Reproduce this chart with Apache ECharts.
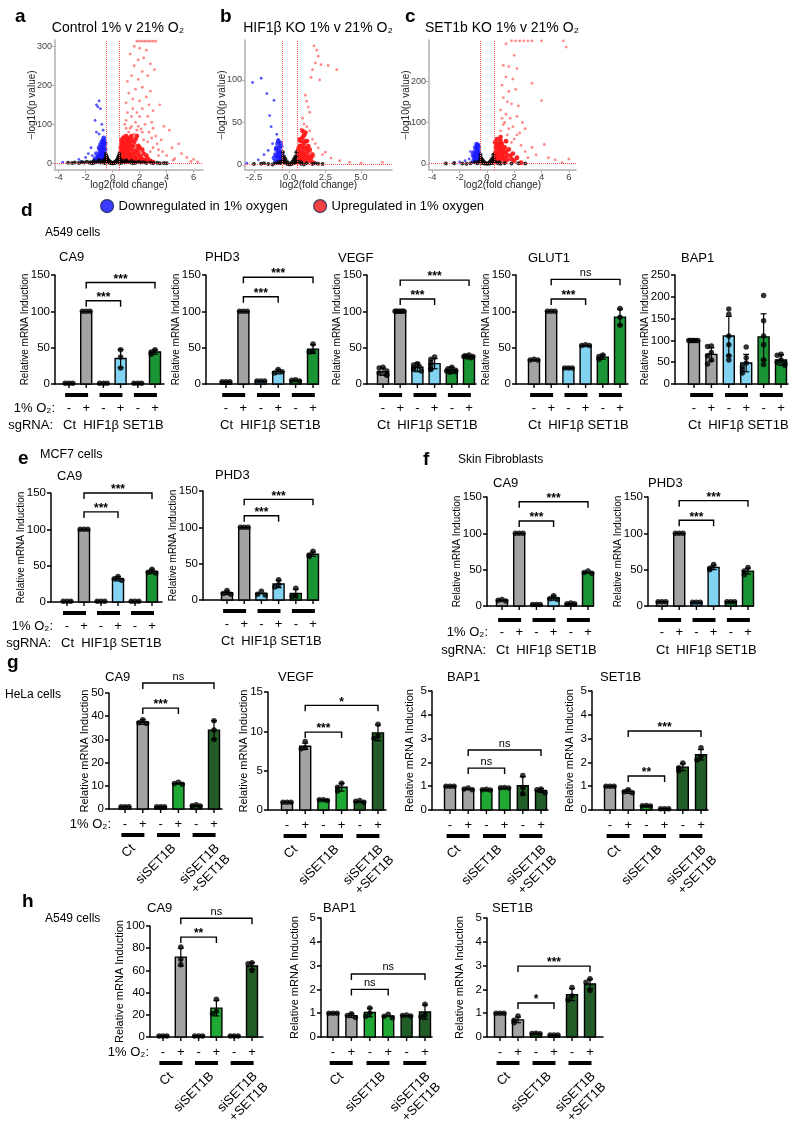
<!DOCTYPE html>
<html><head><meta charset="utf-8">
<script src="https://cdn.jsdelivr.net/npm/echarts@6/dist/echarts.min.js"></script>
<style>html,body{margin:0;padding:0;background:#fff}#c{width:800px;height:1122px}</style>
</head><body><div id="c"></div>
<script>
const FONT = "'Liberation Sans', Arial, Helvetica, sans-serif";

// ---------------- Volcano data ----------------
const volcA_redCore = [[0.6,10],[0.7,20],[0.8,30],[0.9,40],[1.0,50],[1.1,60],[1.2,65],[0.7,45],[0.8,55],[0.6,30],[1.0,25],[1.2,35],[1.4,45],[1.5,25],[1.6,55],[1.8,35],[2.0,20],[2.2,10],[1.3,15],[1.7,12],[0.9,8],[1.1,5],[1.5,5],[2.0,5],[2.5,4],[3.0,3],[0.65,60],[1.3,55],[1.0,35],[1.9,45],[0.55,4],[0.6,20],[0.75,12],[0.85,22],[1.05,15],[1.25,25],[1.45,10],[0.7,35],[0.9,60],[1.1,45],
  [0.55,15],[0.6,25],[0.6,40],[0.65,50],[0.7,5],[0.7,28],[0.75,38],[0.75,52],[0.8,18],[0.8,42],[0.85,10],[0.85,48],[0.9,28],[0.95,18],[0.95,55],[1.0,5],[1.05,40],[1.1,15],[1.15,30],[1.2,50],[1.25,8],[1.3,40],[1.35,22],[1.4,60],[1.45,35],[1.5,15],[1.55,45],[1.6,8],[1.65,30],[1.7,62],[1.75,20],[1.85,10],[1.9,28],[2.0,40],[2.1,15],[2.3,25],[2.4,8],[2.6,12],[2.8,6],[1.8,70],[1.4,70],[1.0,70],[0.8,65],[2.2,35],[2.5,20]];
const volcA_redSparse = [[1.8,313],[2.0,313],[2.2,313],[2.4,313],[2.6,313],[2.8,313],[3.0,313],[3.2,313],[1.6,300],[2.0,295],[2.5,290],[1.3,280],[2.3,270],[1.9,265],[2.8,255],[1.6,250],[3.1,240],[2.2,235],[1.4,225],[2.6,225],[1.9,215],[1.1,210],[2.2,195],[1.7,190],[2.8,185],[3.5,150],[1.2,180],[2.5,170],[1.5,165],[2.0,160],[1.0,155],[3.0,135],[2.2,140],[1.8,130],[1.4,120],[2.6,120],[1.0,110],[3.8,95],[4.2,85],[2.9,105],[3.2,70],[3.6,60],[4.9,50],[4.4,40],[5.1,25],[5.5,15],[6.0,10],[4.0,20],[3.7,30],[3.0,40],[2.6,55],[2.2,80],[1.9,95],[1.6,75],[1.3,90],[0.9,100],[1.1,130],[0.8,70],[2.4,100],[2.0,120],[1.7,105],[3.4,20],[4.6,12],[5.8,5],[6.3,4],[2.8,30],[2.5,15],[4.5,8],[1.5,140],[2.7,150],[1.2,80],[3.3,50],[1.4,95],[2.1,88],[2.7,80],[1.0,90],[1.8,85],[3.0,90],[2.3,60],[2.9,65],[3.4,35]];
const volcA_blueCore = [[-0.55,5],[-0.6,15],[-0.65,25],[-0.7,35],[-0.75,45],[-0.8,55],[-0.6,40],[-0.9,20],[-1.0,10],[-0.7,60],[-0.85,30],[-1.1,5],[-0.55,50],[-0.65,65],[-1.2,8],[-1.4,3],[-0.9,48],[-0.6,8],[-0.75,15],[-0.8,25],[-0.95,35],[-1.05,18],
  [-0.55,20],[-0.55,35],[-0.6,55],[-0.65,10],[-0.7,25],[-0.7,50],[-0.75,5],[-0.8,40],[-0.85,15],[-0.9,5],[-0.95,25],[-1.0,40],[-1.1,15],[-1.2,25],[-1.3,12]];
const volcA_blueSparse = [[-1.2,150],[-1.0,160],[-1.1,145],[-0.9,140],[-1.3,110],[-0.8,100],[-1.2,80],[-1.6,40],[-1.8,25],[-2.5,10],[-2.0,15],[-1.5,20],[-3.7,3],[-1.0,75],[-0.7,85],[-2.3,5]];
const volcA_black = [[0,0.5],[-0.1,2],[0.1,2],[-0.2,5],[0.2,5],[-0.3,8],[0.3,8],[-0.4,12],[0.4,12],[-0.47,19],[0.47,19],[-0.45,8],[0.45,8],[-0.35,3],[0.35,3],[-0.45,2],[0.45,2],[-0.5,24],[0.5,24],[-0.25,2],[0.25,2],
  [-0.48,5],[-0.48,14],[-0.42,16],[-0.42,4],[-0.38,10],[-0.33,6],[-0.28,4],[-0.22,3],[-0.15,1],[-0.05,0.5],[0.05,0.5],[0.15,1],[0.22,3],[0.28,4],[0.33,6],[0.38,10],[0.42,4],[0.42,16],[0.48,5],[0.48,14],
  [-3,1],[-2.5,1],[-2.1,2],[-1.7,1.5],[-1.3,2.5],[-0.9,2],[-0.7,3],[0.7,3],[0.9,2],[1.3,2.5],[1.7,1.5],[2.1,2],[2.5,1],[3,1],[3.5,0.5],[4,0.5],[-1.5,0.5],[1.5,0.5],[-0.6,1],[0.6,1],
  [-2.8,2],[-2.3,3],[-1.9,4],[-1.6,3],[-1.1,5],[-0.8,6],[0.8,6],[1.1,5],[1.6,3],[1.9,4],[2.3,3],[2.8,2],[3.3,1.5],[3.8,1],[-3.3,1.5],[-1.4,6],[1.4,6],[-1,8],[1,8],[-0.6,8],[0.6,8],[-0.55,12],[0.55,12]];

const volcB_redCore = [[0.6,5],[0.7,10],[0.8,15],[0.9,20],[0.6,18],[0.7,22],[0.8,8],[1.0,12],[1.1,5],[1.2,18],[1.3,8],[0.65,14],[1.0,25],[0.9,32],[1.4,5],[1.6,3],[0.55,3],[0.75,28],[1.1,38],[1.2,28],
  [0.55,8],[0.6,12],[0.65,20],[0.7,15],[0.75,5],[0.8,22],[0.85,12],[0.9,5],[0.95,15],[1.0,8],[1.05,20],[1.1,12],[1.15,28],[1.2,8],[1.25,15],[1.3,22],[1.35,10],[1.4,18],[1.5,8],[1.6,12],[0.7,30],[0.9,40],[1.0,35],[0.85,28]];
const volcB_redSparse = [[1.7,140],[1.9,135],[2.0,128],[1.8,120],[2.2,118],[2.7,117],[3.3,112],[1.6,112],[1.5,103],[2.1,100],[1.1,82],[1.2,75],[1.3,68],[1.4,62],[0.9,55],[1.0,48],[1.2,45],[1.4,40],[1.6,30],[1.8,25],[2.0,20],[2.3,12],[2.5,15],[2.9,8],[3.5,5],[4.2,3],[5.0,2],[6.5,3],[1.1,35],[1.3,28],[0.8,42],[1.5,15],[1.7,10]];
const volcB_blueCore = [[-0.55,5],[-0.6,10],[-0.65,15],[-0.7,20],[-0.75,8],[-0.8,14],[-0.9,10],[-0.6,22],[-1.0,4],[-0.7,4],[-0.85,25],[-0.95,18],
  [-0.55,12],[-0.6,4],[-0.65,8],[-0.7,12],[-0.75,16],[-0.8,5],[-0.85,10],[-0.9,20],[-1.0,12],[-1.1,8],[-0.65,26],[-0.8,28]];
const volcB_blueSparse = [[-2.6,97],[-2.0,102],[-1.6,84],[-1.1,76],[-1.4,58],[-1.3,45],[-0.9,36],[-0.8,30],[-1.2,25],[-1.5,17],[-1.8,12],[-2.2,6],[-3.0,2],[-1.0,20]];
const volcB_black = [[0,0.5],[-0.1,2],[0.1,2],[-0.2,4],[0.2,4],[-0.3,7],[0.3,7],[-0.4,10],[0.4,10],[-0.47,15],[0.47,15],[-0.35,3],[0.35,3],[-0.45,5],[0.45,5],
  [-0.48,10],[0.48,10],[-0.42,3],[0.42,3],[-0.25,2],[0.25,2],[-0.15,1],[0.15,1],[-0.38,6],[0.38,6],
  [-2.5,1],[-2,1.5],[-1.5,1],[-1,2],[-0.7,2],[0.8,1.5],[1.2,2],[1.6,1],[2,1.5],[2.3,1],[1.0,0.5],[-1.2,0.5],[-0.6,4],[0.6,4],[-0.8,3],[0.8,3],[-1.8,2],[1.8,2]];

const volcC_redCore = [[0.6,8],[0.7,18],[0.8,28],[0.9,38],[1.0,45],[0.65,30],[0.75,40],[1.1,25],[1.2,15],[1.4,30],[1.5,10],[1.7,20],[2.0,8],[0.9,12],[1.3,5],[2.5,3],[0.7,48],[1.0,55],[0.55,4],[0.8,15],[1.2,38],
  [0.55,15],[0.6,25],[0.65,40],[0.7,8],[0.75,25],[0.8,45],[0.85,20],[0.9,50],[0.95,30],[1.0,10],[1.05,35],[1.1,48],[1.15,18],[1.2,28],[1.3,40],[1.35,15],[1.45,22],[1.6,35],[1.8,12],[1.9,25],[2.2,15],[0.6,52],[0.75,60],[1.0,65],[1.4,55]];
const volcC_redSparse = [[1.8,297],[2.1,297],[2.4,297],[2.7,297],[3.0,297],[3.3,297],[4.0,297],[5.6,297],[1.4,290],[5.8,282],[2.0,262],[1.2,238],[1.6,235],[2.2,230],[1.4,210],[1.9,205],[1.1,190],[3.3,195],[2.1,180],[1.6,175],[1.2,160],[1.5,150],[2.3,140],[1.8,145],[4.0,153],[1.0,130],[1.4,120],[2.2,115],[1.7,110],[2.6,100],[2.8,85],[1.2,95],[1.9,90],[1.0,80],[2.4,75],[1.5,70],[2.0,60],[4.2,47],[3.3,40],[2.8,30],[3.6,22],[4.5,15],[5.0,10],[6.0,12],[2.5,45],[3.0,15],[5.5,3],[1.8,52],[1.3,100],[1.6,85],[2.2,70],[1.1,110]];
const volcC_blueCore = [[-0.55,5],[-0.6,15],[-0.65,25],[-0.7,35],[-0.75,20],[-0.8,10],[-0.9,30],[-0.6,30],[-1.0,6],[-0.7,45],[-0.85,40],[-0.95,15],
  [-0.55,18],[-0.6,25],[-0.6,40],[-0.65,8],[-0.7,15],[-0.7,28],[-0.75,38],[-0.8,22],[-0.85,5],[-0.9,20],[-1.0,25],[-0.65,45],[-0.75,48]];
const volcC_blueSparse = [[-1.1,20],[-1.3,12],[-1.6,8],[-2.0,5],[-2.4,3],[-1.2,30],[-0.9,15]];
const volcC_black = [[0,0.5],[-0.1,2],[0.1,2],[-0.2,5],[0.2,5],[-0.3,9],[0.3,9],[-0.4,14],[0.4,14],[-0.47,22],[0.47,22],[-0.35,3],[0.35,3],[-0.45,6],[0.45,6],
  [-0.48,14],[0.48,14],[-0.42,3],[0.42,3],[-0.25,2],[0.25,2],[-0.15,1],[0.15,1],[-0.38,8],[0.38,8],
  [-3,1],[-2.4,1.5],[-1.8,1],[-1.2,2],[-0.7,2],[0.8,1.5],[1.3,2],[1.8,1],[2.3,1.5],[2.8,1],[-1.5,0.5],[1.0,0.5],[-0.6,6],[0.6,6],[-0.9,4],[0.9,4]];

// ---------------- Bar chart data (estimated) ----------------
const colSg = ['#a3a3a3','#a3a3a3','#82d3f2','#82d3f2','#1a9435','#1a9435'];
const colSi = ['#a3a3a3','#a3a3a3','#1fa833','#1fa833','#225d27','#225d27'];

const dCA9_mean = [1,100,1,35,1,44];       const dCA9_sd = [0.2,0.3,0.2,12.5,0.2,3];
const dCA9_pts = [[1,1,1],[100,100,100],[1,1,1],[47,37,22],[1,1,1],[47,44,41]];
const dCA9_sig = [[1,5,139.6,'***'],[1,3,114.6,'***']];
const dPHD3_mean = [3,100,4,17,5,48];      const dPHD3_sd = [0.5,0.3,0.6,3,1,6];
const dPHD3_pts = [[3,3,3],[100,100,100],[4,4,4],[20,15,17],[6,5,4],[55,45,44]];
const dPHD3_sig = [[1,5,147,'***'],[1,3,120,'***']];
const dVEGF_mean = [17,100,23,28,19,38];   const dVEGF_sd = [5,0.5,6,7,4,2];
const dVEGF_pts = [[23,22,18,15,13,12],[100,100,100,100,100,100],[28,26,22,20,18,24],[37,34,30,26,21,20],[23,21,19,17,16,18],[40,39,38,37,36,38]];
const dVEGF_sig = [[1,5,143,'***'],[1,3,117,'***']];
const dGLUT1_mean = [33,100,22,53,37,92];  const dGLUT1_sd = [1,0.5,1,1.5,3,11];
const dGLUT1_pts = [[34,33,33],[100,100,100],[22,22,22],[54,53,53],[40,38,34],[104,92,81]];
const dGLUT1_sig = [[1,5,144,'ns'],[1,3,117,'***']];
const dBAP1_mean = [100,68,110,48,108,55]; const dBAP1_sd = [1,15,45,20,53,12];
const dBAP1_pts = [[100,100,100,100,100,100],[87,86,72,65,55,46],[172,160,110,90,65,55],[85,60,48,40,32,25],[203,145,110,90,55,45],[68,66,55,50,48,43]];
const dBAP1_sig = [];

const eCA9_mean = [1,100,1,32,1,42];       const eCA9_sd = [0.2,0.3,0.2,3,0.2,3];
const eCA9_pts = [[1,1,1],[100,100,100],[1,1,1],[35,32,30],[1,1,1],[45,41,40]];
const eCA9_sig = [[1,5,150,'***'],[1,3,124,'***']];
const ePHD3_mean = [10,100,9,22,9,63];     const ePHD3_sd = [2.5,0.3,2,5,6,3];
const ePHD3_pts = [[13,9,8],[100,100,100],[12,8,7],[28,21,18],[16,6,5],[67,62,60]];
const ePHD3_sig = [[1,5,138.5,'***'],[1,3,116,'***']];

const fCA9_mean = [8,100,2,11,3,46];       const fCA9_sd = [1.5,0.3,0.5,3,0.8,2];
const fCA9_pts = [[9,8,7],[100,100,100],[2,2,2],[14,10,9],[4,3,3],[48,46,45]];
const fCA9_sig = [[1,5,143.5,'***'],[1,3,117,'***']];
const fPHD3_mean = [6,100,5,53,6,48];      const fPHD3_sd = [0.5,0.3,0.5,3,0.5,4];
const fPHD3_pts = [[6,6,6],[100,100,100],[5,5,5],[57,52,50],[6,6,6],[53,48,43]];
const fPHD3_sig = [[1,5,145,'***'],[1,3,118,'***']];

const gCA9_mean = [1,37.5,1,11,1.5,34];    const gCA9_sd = [0.1,1,0.1,0.4,0.4,4];
const gCA9_pts = [[1,1,1],[38.5,37.2,36.8],[1,1,1],[11.5,11,10.7],[1.8,1.4,1.3],[38,34,30]];
const gCA9_sig = [[1,5,54.3,'ns'],[1,3,43.5,'***']];
const gVEGF_mean = [1,8.1,1.3,2.9,1.1,9.8]; const gVEGF_sd = [0.05,0.4,0.1,0.5,0.15,1];
const gVEGF_pts = [[1,1,1],[8.7,7.9,7.8],[1.3,1.3,1.2],[3.4,2.9,2.4],[1.2,1.1,1],[10.9,9.4,9.1]];
const gVEGF_sig = [[1,5,13.3,'*'],[1,3,9.9,'***']];
const gBAP1_mean = [1,0.88,0.85,0.93,1.02,0.82]; const gBAP1_sd = [0.02,0.05,0.04,0.04,0.38,0.08];
const gBAP1_pts = [[1,1,1],[0.92,0.88,0.85],[0.87,0.85,0.84],[0.95,0.93,0.92],[1.45,0.95,0.68],[0.88,0.85,0.73]];
const gBAP1_sig = [[1,5,2.52,'ns'],[1,3,1.76,'ns']];
const gSET1B_mean = [1,0.78,0.18,0.05,1.8,2.32]; const gSET1B_sd = [0.02,0.08,0.03,0.01,0.15,0.22];
const gSET1B_pts = [[1,1,1],[0.85,0.77,0.72],[0.19,0.18,0.17],[0.05,0.05,0.05],[1.98,1.78,1.65],[2.62,2.25,2.1]];
const gSET1B_sig = [[1,5,3.32,'***'],[1,3,1.43,'**']];

const hCA9_mean = [1,72,1,26,1,64];        const hCA9_sd = [0.2,8,0.2,7,0.2,3];
const hCA9_pts = [[1,1,1],[81,70,65],[1,1,1],[34,23,21],[1,1,1],[67,66,60]];
const hCA9_sig = [[1,5,107,'ns'],[1,3,90,'**']];
const hBAP1_mean = [1,0.9,1.03,0.88,0.9,1.05]; const hBAP1_sd = [0.01,0.08,0.18,0.06,0.04,0.3];
const hBAP1_pts = [[1,1,1],[0.98,0.9,0.82],[1.22,1.0,0.87],[0.96,0.87,0.8],[0.92,0.9,0.88],[1.38,0.92,0.85]];
const hBAP1_sig = [[1,5,2.65,'ns'],[1,3,2.0,'ns']];
const hSET1B_mean = [1,0.72,0.15,0.08,1.78,2.23]; const hSET1B_sd = [0.01,0.12,0.02,0.01,0.25,0.2];
const hSET1B_pts = [[1,1,1],[0.88,0.7,0.6],[0.16,0.15,0.14],[0.08,0.08,0.08],[2.08,1.72,1.55],[2.45,2.3,1.95]];
const hSET1B_sig = [[1,5,2.98,'***'],[1,3,1.43,'*']];

const sgNames = 'Ct  HIF1\u03b2 SET1B';
const siNames = ['Ct','siSET1B','siSET1B\n+SET1B'];
const pmLabels = ['-','+','-','+','-','+'];

// ---------------- layout ----------------
const ROW_D = {ln:11, pm:24, nm:41};
const ROW_F = {ln:14, pm:26, nm:44};
const ROW_G = {pm:15, ln:26, rot:32};

const grids=[], xAxes=[], yAxes=[], series=[], graphics=[];

function gtext(x,y,text,size,opt){
  opt=opt||{};
  graphics.push({type:'text', x:x, y:y, silent:true, style:{text:text, font:(opt.bold?'bold ':'')+size+'px '+FONT, fill:opt.color||'#000',
    textAlign:opt.align||'left', align:opt.align||'left', textVerticalAlign:'middle', verticalAlign:'middle'}});
}

function volcano(V){
  const gi=grids.length;
  grids.push({left:V.l, top:V.t, width:V.r-V.l, height:V.b-V.t});
  xAxes.push({gridIndex:gi, type:'value', min:V.xmin, max:V.xmax, name:'log2(fold change)', nameLocation:'middle', nameGap:10, nameMoveOverlap:false,
    nameTextStyle:{fontSize:10, color:'#222', fontFamily:FONT},
    axisLine:{show:true,onZero:false,lineStyle:{color:'#b0b0b0',width:1.5}},
    axisTick:{show:true,length:3,lineStyle:{color:'#b0b0b0'},customValues:V.xt},
    axisLabel:{fontSize:9.5,color:'#444',margin:2,fontFamily:FONT,customValues:V.xt,formatter:V.xf||(v=>String(v))},
    splitLine:{show:false}});
  yAxes.push({gridIndex:gi, type:'value', min:V.ymin, max:V.ymax, name:'\u2212log10(p value)', nameLocation:'middle', nameGap:V.ng, nameMoveOverlap:false,
    nameTextStyle:{fontSize:10, color:'#222', fontFamily:FONT},
    axisLine:{show:true,onZero:false,lineStyle:{color:'#b0b0b0',width:1.5}},
    axisTick:{show:true,length:3,lineStyle:{color:'#b0b0b0'},customValues:V.yt},
    axisLabel:{fontSize:9,color:'#444',margin:3,fontFamily:FONT,customValues:V.yt},
    splitLine:{show:false}});
  const xi=xAxes.length-1, yi=yAxes.length-1;
  const base={type:'scatter', xAxisIndex:xi, yAxisIndex:yi, silent:true};
  series.push(Object.assign({}, base, {name:'Upregulated in 1% oxygen', data:V.redSparse, symbolSize:2.8, itemStyle:{color:'#ff6b6b', opacity:0.8}}));
  series.push(Object.assign({}, base, {name:'Upregulated in 1% oxygen', data:V.redCore, symbolSize:4.8, itemStyle:{color:'#ff1a1a', opacity:0.95}}));
  series.push(Object.assign({}, base, {name:'Downregulated in 1% oxygen', data:V.blueSparse, symbolSize:2.8, itemStyle:{color:'#3a3aff', opacity:0.85}}));
  series.push(Object.assign({}, base, {name:'Downregulated in 1% oxygen', data:V.blueCore, symbolSize:4.8, itemStyle:{color:'#1a1aff'}}));
  series.push(Object.assign({}, base, {name:'ns', data:V.black, symbolSize:4, itemStyle:{color:'#000'},
    markLine:{silent:true, symbol:'none', label:{show:false}, lineStyle:{color:'#ff5050', type:'dotted', width:1},
      data:[{xAxis:-0.5},{xAxis:0.5},{yAxis:1.3}]}}));
  gtext(V.tx, 28, V.title, 14, {align:'center'});
}

function barChart(C){
  const L=C.L;
  const gi=grids.length;
  grids.push({left:L.ax, top:L.top, width:L.right-L.ax, height:L.bottom-L.top});
  const s=(L.x5-L.x0)/5;
  xAxes.push({gridIndex:gi, type:'value', min:-(L.x0-L.ax)/s, max:5+(L.right-L.x5)/s,
    axisLine:{show:true,onZero:false,lineStyle:{color:'#000',width:1.5}}, axisTick:{show:false}, axisLabel:{show:false}, splitLine:{show:false}});
  yAxes.push({gridIndex:gi, type:'value', min:0, max:C.ymax, interval:C.step, name:'Relative mRNA Induction', nameLocation:'middle', nameGap:L.ng, nameMoveOverlap:false,
    nameTextStyle:{fontSize:L.nf, color:'#000', fontFamily:FONT},
    axisLine:{show:true,onZero:false,lineStyle:{color:'#000',width:1.5}},
    axisTick:{show:true,length:4,lineStyle:{color:'#000',width:1.5}},
    axisLabel:{fontSize:11.5,color:'#000',margin:5,fontFamily:FONT}, splitLine:{show:false}});
  const xi=xAxes.length-1, yi=yAxes.length-1;
  const base={xAxisIndex:xi, yAxisIndex:yi, silent:true};
  // bars + SD
  series.push(Object.assign({}, base, {type:'custom', clip:false, z:2,
    data:C.mean.map((m,i)=>[i,m,C.sd[i]]),
    renderItem:(params,api)=>{
      const i=api.value(0), m=api.value(1), sd=api.value(2);
      const b=api.coord([i,0]), t=api.coord([i,m]);
      const hi=api.coord([i,m+sd]), lo=api.coord([i,Math.max(0,m-sd)]);
      const w=11, cw=6;
      const ch=[{type:'rect', shape:{x:b[0]-w/2, y:t[1], width:w, height:Math.max(b[1]-t[1],0.8)},
        style:{fill:C.colors[i], stroke:'#000', lineWidth:1.4}}];
      if (t[1]-hi[1] > 1.5){
        ch.push({type:'line', shape:{x1:b[0],y1:lo[1],x2:b[0],y2:hi[1]}, style:{stroke:'#000',lineWidth:1.2}});
        ch.push({type:'line', shape:{x1:b[0]-cw/2,y1:hi[1],x2:b[0]+cw/2,y2:hi[1]}, style:{stroke:'#000',lineWidth:1.2}});
        ch.push({type:'line', shape:{x1:b[0]-cw/2,y1:lo[1],x2:b[0]+cw/2,y2:lo[1]}, style:{stroke:'#000',lineWidth:1.2}});
      }
      return {type:'group', children:ch};
    }}));
  // points
  const pd=[];
  C.pts.forEach((arr,i)=>{
    const placed=[];
    arr.forEach(v=>{
      const k=placed.filter(u=>Math.abs(u-v)<C.ymax*0.04).length;
      placed.push(v);
      const off=[0,-0.22,0.22,-0.11,0.11,-0.3][k];
      pd.push([i+off, v]);
    });
  });
  series.push(Object.assign({}, base, {type:'scatter', z:4, data:pd, symbolSize:5.5, itemStyle:{color:'#000'}}));
  // significance brackets
  series.push(Object.assign({}, base, {type:'custom', clip:false, z:4,
    data:C.br.map(b=>[b[0],b[2],b[1]]),
    renderItem:(params,api)=>{
      const a=api.coord([api.value(0),api.value(1)]), c=api.coord([api.value(2),api.value(1)]);
      const lab=C.br[params.dataIndex][3];
      const tk=6;
      const isNs = lab==='ns';
      return {type:'group', children:[
        {type:'polyline', shape:{points:[[a[0],a[1]+tk],[a[0],a[1]],[c[0],c[1]],[c[0],c[1]+tk]]}, style:{stroke:'#000',lineWidth:1.4,fill:'none'}},
        {type:'text', style:{text:lab, x:(a[0]+c[0])/2, y:isNs? a[1]-1 : a[1]-3,
          font:(isNs?'':'bold ')+(isNs?11:12)+'px '+FONT, fill:'#000', textAlign:'center', align:'center',
          textVerticalAlign:isNs?'bottom':'middle', verticalAlign:isNs?'bottom':'middle'}}
      ]};
    }}));
  // x axis decorations
  series.push(Object.assign({}, base, {type:'custom', clip:false, z:3,
    data:[[0,0]],
    renderItem:(params,api)=>{
      const ch=[]; const P=i=>api.coord([i,0]);
      const y0=P(0)[1]; const R=L.row;
      for (let i=0;i<6;i++){
        const x=P(i)[0];
        ch.push({type:'line', shape:{x1:x,y1:y0,x2:x,y2:y0+4}, style:{stroke:'#000',lineWidth:1.4}});
        ch.push({type:'text', style:{text:pmLabels[i], x:x, y:y0+R.pm, font:'13px '+FONT, fill:'#000', textAlign:'center', align:'center', textVerticalAlign:'middle', verticalAlign:'middle'}});
      }
      for (let g=0; g<3; g++){
        const mid=(P(2*g)[0]+P(2*g+1)[0])/2 - 1;
        ch.push({type:'line', shape:{x1:mid-11.5,y1:y0+R.ln,x2:mid+11.5,y2:y0+R.ln}, style:{stroke:'#000',lineWidth:4}});
        if (L.style==='si'){
          ch.push({type:'text', x:mid+[ -5, 0, 8 ][g], y:y0+R.rot, rotation:Math.PI/4,
            style:{text:siNames[g], x:0, y:0, font:'13px '+FONT, fill:'#000', textAlign:'right', align:'right', textVerticalAlign:'top', verticalAlign:'top', lineHeight:15}});
        }
      }
      const x0=P(0)[0];
      if (L.style==='sg'){
        ch.push({type:'text', style:{text:sgNames, x:x0-6, y:y0+R.nm, font:'13px '+FONT, fill:'#000', textAlign:'left', align:'left', textVerticalAlign:'middle', verticalAlign:'middle'}});
        if (L.prefix) ch.push({type:'text', style:{text:'sgRNA:', x:x0-16, y:y0+R.nm, font:'13px '+FONT, fill:'#000', textAlign:'right', align:'right', textVerticalAlign:'middle', verticalAlign:'middle'}});
      }
      if (L.prefix) ch.push({type:'text', style:{text:'1% O\u2082:', x:x0-14, y:y0+R.pm, font:'13px '+FONT, fill:'#000', textAlign:'right', align:'right', textVerticalAlign:'middle', verticalAlign:'middle'}});
      return {type:'group', children:ch};
    }}));
  gtext(L.tx, L.ty, C.title, 13);
}

// ---------------- build ----------------
volcano({l:55,t:40,r:203,b:170,xmin:-4.27,xmax:6.7,ymin:-17,ymax:316,xt:[-4,-2,0,2,4,6],yt:[0,100,200,300],ng:18,
  title:'Control 1% v 21% O\u2082', tx:118, redCore:volcA_redCore, redSparse:volcA_redSparse, blueCore:volcA_blueCore, blueSparse:volcA_blueSparse, black:volcA_black});
volcano({l:245,t:40,r:392,b:170,xmin:-3.13,xmax:7.17,ymin:-6,ymax:147,xt:[-2.5,0,2.5,5],yt:[0,50,100],ng:18,xf:v=>v.toFixed(1),
  title:'HIF1\u03b2 KO 1% v 21% O\u2082', tx:318, redCore:volcB_redCore, redSparse:volcB_redSparse, blueCore:volcB_blueCore, blueSparse:volcB_blueSparse, black:volcB_black});
volcano({l:429,t:40,r:576,b:170,xmin:-4.24,xmax:6.52,ymin:-14.5,ymax:299,xt:[-4,-2,0,2,4,6],yt:[0,100,200],ng:18,
  title:'SET1b KO 1% v 21% O\u2082', tx:502, redCore:volcC_redCore, redSparse:volcC_redSparse, blueCore:volcC_blueCore, blueSparse:volcC_blueSparse, black:volcC_black});

const charts = [
 {title:'CA9', ymax:150, step:50, mean:dCA9_mean, sd:dCA9_sd, pts:dCA9_pts, br:dCA9_sig, colors:colSg,
  L:{ax:55,x0:69,x5:155,right:164,top:275,bottom:384,ng:25,nf:10,row:ROW_D,style:'sg',prefix:true,tx:59,ty:257}},
 {title:'PHD3', ymax:150, step:50, mean:dPHD3_mean, sd:dPHD3_sd, pts:dPHD3_pts, br:dPHD3_sig, colors:colSg,
  L:{ax:206,x0:226,x5:313,right:318,top:275,bottom:384,ng:25,nf:10,row:ROW_D,style:'sg',tx:205,ty:257}},
 {title:'VEGF', ymax:150, step:50, mean:dVEGF_mean, sd:dVEGF_sd, pts:dVEGF_pts, br:dVEGF_sig, colors:colSg,
  L:{ax:367,x0:383,x5:469,right:476,top:275,bottom:384,ng:25,nf:10,row:ROW_D,style:'sg',tx:338,ty:258}},
 {title:'GLUT1', ymax:150, step:50, mean:dGLUT1_mean, sd:dGLUT1_sd, pts:dGLUT1_pts, br:dGLUT1_sig, colors:colSg,
  L:{ax:516,x0:534,x5:620,right:628,top:275,bottom:384,ng:25,nf:10,row:ROW_D,style:'sg',tx:528,ty:258}},
 {title:'BAP1', ymax:250, step:50, mean:dBAP1_mean, sd:dBAP1_sd, pts:dBAP1_pts, br:dBAP1_sig, colors:colSg,
  L:{ax:675,x0:694,x5:781,right:788,top:275,bottom:384,ng:25,nf:10,row:ROW_D,style:'sg',tx:681,ty:258}},
 {title:'CA9', ymax:150, step:50, mean:eCA9_mean, sd:eCA9_sd, pts:eCA9_pts, br:eCA9_sig, colors:colSg,
  L:{ax:51,x0:67,x5:152,right:162,top:493,bottom:602,ng:25,nf:10,row:ROW_D,style:'sg',prefix:true,tx:57,ty:476}},
 {title:'PHD3', ymax:150, step:50, mean:ePHD3_mean, sd:ePHD3_sd, pts:ePHD3_pts, br:ePHD3_sig, colors:colSg,
  L:{ax:203,x0:227,x5:313,right:318,top:491,bottom:600,ng:25,nf:10,row:ROW_D,style:'sg',tx:215,ty:475}},
 {title:'CA9', ymax:150, step:50, mean:fCA9_mean, sd:fCA9_sd, pts:fCA9_pts, br:fCA9_sig, colors:colSg,
  L:{ax:487,x0:502,x5:588,right:593,top:497,bottom:606,ng:25,nf:10,row:ROW_F,style:'sg',prefix:true,tx:493,ty:483}},
 {title:'PHD3', ymax:150, step:50, mean:fPHD3_mean, sd:fPHD3_sd, pts:fPHD3_pts, br:fPHD3_sig, colors:colSg,
  L:{ax:648,x0:662,x5:748,right:753,top:497,bottom:606,ng:25,nf:10,row:ROW_F,style:'sg',tx:648,ty:483}},
 {title:'CA9', ymax:50, step:10, mean:gCA9_mean, sd:gCA9_sd, pts:gCA9_pts, br:gCA9_sig, colors:colSi,
  L:{ax:109,x0:125,x5:214,right:222,top:693,bottom:809,ng:19,nf:11,row:ROW_G,style:'si',prefix:true,tx:105,ty:677}},
 {title:'VEGF', ymax:15, step:5, mean:gVEGF_mean, sd:gVEGF_sd, pts:gVEGF_pts, br:gVEGF_sig, colors:colSi,
  L:{ax:268,x0:287,x5:378,right:386,top:692,bottom:810,ng:19,nf:11,row:ROW_G,style:'si',tx:278,ty:677}},
 {title:'BAP1', ymax:5, step:1, mean:gBAP1_mean, sd:gBAP1_sd, pts:gBAP1_pts, br:gBAP1_sig, colors:colSi,
  L:{ax:432,x0:450,x5:541,right:548,top:691,bottom:810,ng:16.5,nf:11,row:ROW_G,style:'si',tx:447,ty:677}},
 {title:'SET1B', ymax:5, step:1, mean:gSET1B_mean, sd:gSET1B_sd, pts:gSET1B_pts, br:gSET1B_sig, colors:colSi,
  L:{ax:592,x0:610,x5:701,right:708,top:691,bottom:810,ng:16.5,nf:11,row:ROW_G,style:'si',tx:600,ty:677}},
 {title:'CA9', ymax:100, step:20, mean:hCA9_mean, sd:hCA9_sd, pts:hCA9_pts, br:hCA9_sig, colors:colSi,
  L:{ax:150,x0:163,x5:252,right:263,top:926,bottom:1037,ng:25,nf:11,row:ROW_G,style:'si',prefix:true,tx:147,ty:908}},
 {title:'BAP1', ymax:5, step:1, mean:hBAP1_mean, sd:hBAP1_sd, pts:hBAP1_pts, br:hBAP1_sig, colors:colSi,
  L:{ax:321,x0:333,x5:425,right:432,top:918,bottom:1037,ng:20.5,nf:11,row:ROW_G,style:'si',tx:323,ty:908}},
 {title:'SET1B', ymax:5, step:1, mean:hSET1B_mean, sd:hSET1B_sd, pts:hSET1B_pts, br:hSET1B_sig, colors:colSi,
  L:{ax:487,x0:500,x5:590,right:603,top:918,bottom:1037,ng:21.5,nf:11,row:ROW_G,style:'si',tx:492,ty:908}}
];
charts.forEach(barChart);

// panel letters & labels
[['a',15,17],['b',220,17],['c',405,17],['d',21,211],['e',18,459],['f',423,460],['g',7,663],['h',22,902]].forEach(p=>gtext(p[1],p[2],p[0],19,{bold:true}));
gtext(45,233,'A549 cells',12);
gtext(40,455,'MCF7 cells',12.5);
gtext(458,460,'Skin Fibroblasts',12);
gtext(5,695,'HeLa cells',12);
gtext(45,919,'A549 cells',12);

const chart = echarts.init(document.getElementById('c'), null, {renderer:'canvas'});
chart.setOption({
  animation:false,
  backgroundColor:'#fff',
  grid:grids, xAxis:xAxes, yAxis:yAxes, series:series,
  legend:[
    {left:100, top:199, padding:0, itemWidth:13, itemHeight:13, selectedMode:false,
     textStyle:{fontSize:13,color:'#000',fontFamily:FONT},
     data:[{name:'Downregulated in 1% oxygen', icon:'circle', itemStyle:{color:'#1a1aff', borderColor:'#1b2a5a', borderWidth:1.2}}]},
    {left:313, top:199, padding:0, itemWidth:13, itemHeight:13, selectedMode:false,
     textStyle:{fontSize:13,color:'#000',fontFamily:FONT},
     data:[{name:'Upregulated in 1% oxygen', icon:'circle', itemStyle:{color:'#ee1111', borderColor:'#1b2a5a', borderWidth:1.2}}]}
  ],
  graphic:{elements:graphics}
});
</script></body></html>
